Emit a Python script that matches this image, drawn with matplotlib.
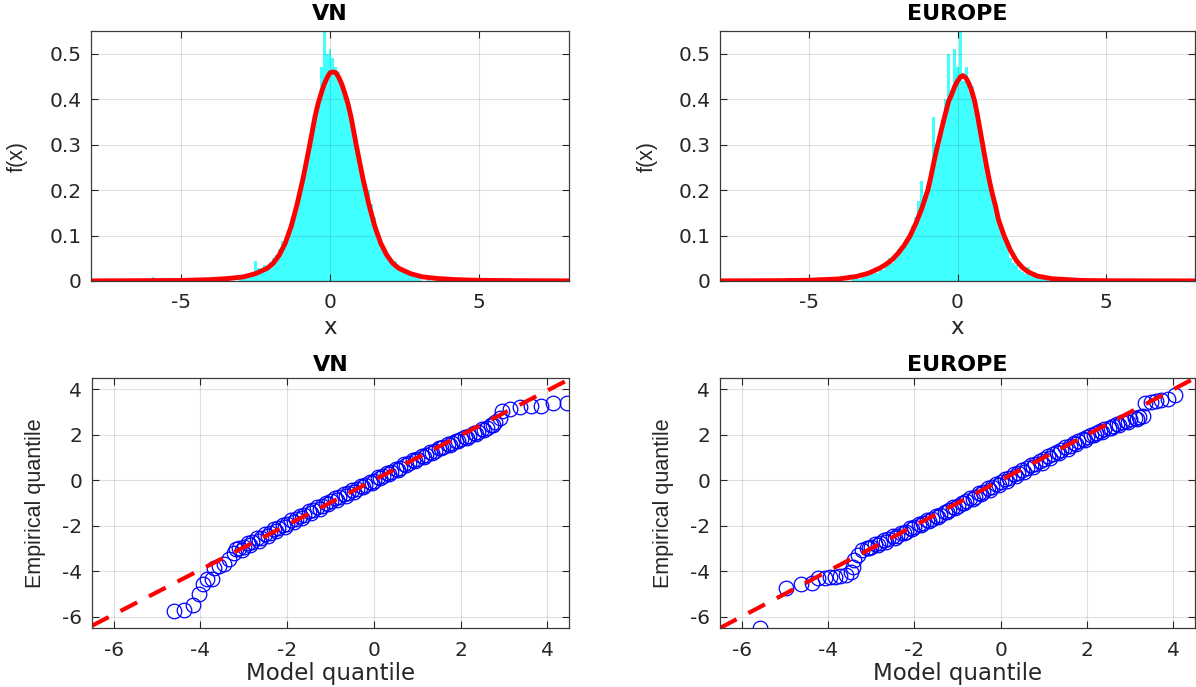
import numpy as np
import matplotlib
matplotlib.use('Agg')
import matplotlib.pyplot as plt

# ---- histogram + fitted density ----
vn_bin_x = np.round(np.arange(-3.0, 3.01, 0.1), 2)
vn_hist = [0.008, 0.012, 0.010, 0.015, 0.020, 0.045, 0.028, 0.022, 0.035, 0.030,
           0.042, 0.050, 0.058, 0.070, 0.088, 0.092, 0.110, 0.130, 0.150, 0.175,
           0.200, 0.230, 0.260, 0.290, 0.330, 0.370, 0.400, 0.470, 0.550, 0.500,
           0.510, 0.490, 0.470, 0.460, 0.440, 0.420, 0.390, 0.370, 0.340, 0.300,
           0.270, 0.240, 0.210, 0.200, 0.170, 0.140, 0.110, 0.090, 0.075, 0.060,
           0.050, 0.040, 0.045, 0.030, 0.028, 0.020, 0.018, 0.015, 0.012, 0.010,
           0.008]
vn_tail_x = [-5.9, -3.9, -3.4, 3.3, 3.6]
vn_tail_h = [0.008, 0.006, 0.008, 0.006, 0.004]

vn_pdf_x = [-8, -6, -5, -4, -3.4, -2.9, -2.5, -2.1, -1.9, -1.7, -1.5, -1.3, -1.1,
            -0.9, -0.7, -0.5, -0.4, -0.3, -0.2, -0.1, 0.0, 0.1, 0.2, 0.3, 0.4,
            0.5, 0.6, 0.7, 0.9, 1.1, 1.3, 1.5, 1.7, 1.9, 2.1, 2.3, 2.7, 3.1, 3.6,
            4.2, 5, 6, 8]
vn_pdf = [0.0003, 0.0008, 0.0012, 0.003, 0.0055, 0.009, 0.016, 0.028, 0.039,
          0.057, 0.083, 0.120, 0.169, 0.226, 0.292, 0.362, 0.390, 0.412, 0.432,
          0.447, 0.458, 0.460, 0.458, 0.447, 0.432, 0.412, 0.390, 0.362, 0.292,
          0.226, 0.169, 0.120, 0.083, 0.057, 0.039, 0.028, 0.016, 0.009, 0.0055,
          0.003, 0.0015, 0.0008, 0.0003]

eu_bin_x = np.round(np.arange(-3.5, 3.01, 0.1), 2)
eu_hist = [0.004, 0.006, 0.005, 0.008, 0.012, 0.010, 0.015, 0.020, 0.018, 0.030,
           0.025, 0.035, 0.050, 0.040, 0.055, 0.070, 0.068, 0.080, 0.090, 0.100,
           0.120, 0.140, 0.175, 0.220, 0.190, 0.200, 0.240, 0.360, 0.280, 0.300,
           0.330, 0.400, 0.500, 0.420, 0.510, 0.470, 0.550, 0.440, 0.470, 0.420,
           0.430, 0.380, 0.360, 0.300, 0.270, 0.240, 0.210, 0.180, 0.160, 0.120,
           0.100, 0.085, 0.075, 0.050, 0.040, 0.035, 0.025, 0.020, 0.015, 0.030,
           0.012, 0.020, 0.008, 0.005, 0.004, 0.003]
eu_tail_x = [-4.6, -4.3, -4.0, 3.3]
eu_tail_h = [0.005, 0.006, 0.003, 0.002]

eu_pdf_x = [-8, -6, -5, -4, -3.4, -3.0, -2.6, -2.4, -2.2, -2.0, -1.8, -1.6, -1.4,
            -1.2, -1.0, -0.9, -0.8, -0.7, -0.6, -0.5, -0.4, -0.3, -0.2, -0.1,
            0.0, 0.1, 0.18, 0.28, 0.38, 0.48, 0.58, 0.68, 0.78, 0.88, 0.98, 1.08,
            1.18, 1.28, 1.38, 1.48, 1.58, 1.78, 1.98, 2.18, 2.38, 2.68, 3.18,
            4.18, 5.2, 8]
eu_pdf = [0.0003, 0.0008, 0.0017, 0.0045, 0.010, 0.017, 0.029, 0.037, 0.047,
          0.061, 0.078, 0.099, 0.127, 0.160, 0.200, 0.228, 0.260, 0.290, 0.317,
          0.344, 0.370, 0.395, 0.410, 0.427, 0.440, 0.449, 0.452, 0.447, 0.435,
          0.418, 0.395, 0.362, 0.325, 0.288, 0.252, 0.219, 0.190, 0.165, 0.135,
          0.116, 0.098, 0.068, 0.045, 0.030, 0.020, 0.011, 0.005, 0.0012,
          0.0005, 0.0002]

# ---- QQ plots ----
vn_model = [-4.62, -4.37, -4.17, -4.04, -3.94, -3.85, -3.73, -3.69, -3.58, -3.46,
            -3.35, -3.23, -3.19,
            -3.1, -3.0, -2.9, -2.8, -2.7, -2.6, -2.5, -2.4, -2.3, -2.2, -2.1,
            -2.0, -1.9, -1.8, -1.7, -1.6, -1.5, -1.4, -1.3, -1.2, -1.1, -1.0,
            -0.9, -0.8, -0.7, -0.6, -0.5, -0.4, -0.3, -0.2, -0.1, 0.0, 0.1,
            0.2, 0.3, 0.4, 0.5, 0.6, 0.7, 0.8, 0.9, 1.0, 1.1, 1.2, 1.3, 1.4,
            1.5, 1.6, 1.7, 1.8, 1.9, 2.0, 2.1, 2.2, 2.3, 2.4, 2.5, 2.6, 2.7,
            2.8, 2.9,
            2.96, 3.15, 3.38, 3.62, 3.85, 4.12, 4.46]
vn_emp = [-5.75, -5.72, -5.50, -4.99, -4.58, -4.36, -4.33, -3.85, -3.77, -3.67,
          -3.48, -3.19, -3.04,
          -2.98, -2.92, -2.74, -2.70, -2.55, -2.52, -2.36, -2.33, -2.16, -2.12,
          -1.96, -1.92, -1.76, -1.72, -1.56, -1.52, -1.37, -1.32, -1.17, -1.12,
          -0.98, -0.93, -0.79, -0.74, -0.60, -0.55, -0.42, -0.37, -0.24, -0.19,
          -0.06, -0.01, 0.13, 0.17, 0.32, 0.36, 0.51, 0.55, 0.70, 0.74, 0.89,
          0.93, 1.07, 1.11, 1.25, 1.29, 1.42, 1.46, 1.58, 1.63, 1.74, 1.80,
          1.90, 1.96, 2.06, 2.13, 2.24, 2.31, 2.44, 2.55, 2.72,
          3.03, 3.13, 3.22, 3.25, 3.27, 3.39, 3.39]
# second row of the dense band (lower edge)
vn_model2 = [-3.05, -2.85, -2.65, -2.45, -2.25, -2.05, -1.85, -1.65, -1.45, -1.25,
             -1.05, -0.85, -0.65, -0.45, -0.25, -0.05, 0.15, 0.35, 0.55, 0.75,
             0.95, 1.15, 1.35, 1.55, 1.75, 1.95, 2.15, 2.35, 2.55, 2.75]
vn_emp2 = [-3.05, -2.85, -2.65, -2.45, -2.25, -2.05, -1.85, -1.65, -1.45, -1.25,
           -1.05, -0.88, -0.68, -0.50, -0.30, -0.10, 0.10, 0.28, 0.47, 0.66,
           0.85, 1.04, 1.22, 1.40, 1.56, 1.72, 1.88, 2.04, 2.22, 2.42]
vn_ref_x = [-6.5, 4.5]
vn_ref_y = [-6.4, 4.44]

eu_model = [-5.57, -4.98, -4.63, -4.37, -4.24, -4.08, -3.96, -3.84, -3.71, -3.59,
            -3.47, -3.43, -3.39, -3.31, -3.22,
            -3.1, -3.0, -2.9, -2.8, -2.7, -2.6, -2.5, -2.4, -2.3, -2.2, -2.1,
            -2.0, -1.9, -1.8, -1.7, -1.6, -1.5, -1.4, -1.3, -1.2, -1.1, -1.0,
            -0.9, -0.8, -0.7, -0.6, -0.5, -0.4, -0.3, -0.2, -0.1, 0.0, 0.1,
            0.2, 0.3, 0.4, 0.5, 0.6, 0.7, 0.8, 0.9, 1.0, 1.1, 1.2, 1.3, 1.4,
            1.5, 1.6, 1.7, 1.8, 1.9, 2.0, 2.1, 2.2, 2.3, 2.4, 2.5, 2.6, 2.7,
            2.8, 2.9, 3.0, 3.1, 3.2, 3.3,
            3.35, 3.47, 3.59, 3.71, 3.88, 4.04]
eu_emp = [-6.48, -4.75, -4.56, -4.53, -4.31, -4.28, -4.27, -4.24, -4.21, -4.17,
          -4.02, -3.80, -3.51, -3.29, -3.07,
          -2.96, -2.93, -2.80, -2.76, -2.64, -2.60, -2.47, -2.43, -2.30, -2.26,
          -2.12, -2.06, -1.94, -1.88, -1.76, -1.70, -1.57, -1.51, -1.38, -1.32,
          -1.18, -1.12, -0.98, -0.92, -0.78, -0.72, -0.57, -0.51, -0.36, -0.30,
          -0.15, -0.09, 0.06, 0.12, 0.26, 0.33, 0.46, 0.53, 0.66, 0.73, 0.86,
          0.94, 1.06, 1.14, 1.26, 1.34, 1.45, 1.53, 1.64, 1.72, 1.82, 1.91,
          2.00, 2.08, 2.16, 2.24, 2.31, 2.40, 2.46, 2.55, 2.60, 2.68, 2.72,
          2.78, 2.82,
          3.41, 3.46, 3.50, 3.53, 3.56, 3.75]
eu_model2 = [-3.05, -2.85, -2.65, -2.45, -2.25, -2.05, -1.85, -1.65, -1.45, -1.25,
             -1.05, -0.85, -0.65, -0.45, -0.25, -0.05, 0.15, 0.35, 0.55, 0.75,
             0.95, 1.15, 1.35, 1.55, 1.75, 1.95, 2.15, 2.35, 2.55, 2.75, 2.95,
             3.15]
eu_emp2 = [-3.00, -2.85, -2.70, -2.52, -2.34, -2.16, -1.97, -1.78, -1.60, -1.41,
           -1.22, -1.02, -0.82, -0.62, -0.42, -0.22, -0.02, 0.18, 0.38, 0.58,
           0.78, 0.98, 1.18, 1.38, 1.58, 1.78, 1.98, 2.14, 2.30, 2.44, 2.58,
           2.68]
eu_ref_x = [-6.5, 4.5]
eu_ref_y = [-6.5, 4.5]

plt.rcParams['font.family'] = 'DejaVu Sans'
plt.rcParams['axes.unicode_minus'] = False
W, H = 1196, 687
fig = plt.figure(figsize=(W / 100, H / 100), dpi=100)

def box(x0, y0, x1, y1):
    # pixel box -> figure fraction
    return [x0 / W, 1 - y1 / H, (x1 - x0) / W, (y1 - y0) / H]

def style(ax):
    ax.set_axisbelow('line')
    ax.grid(True, color='#000000', alpha=0.12, lw=0.8)
    ax.tick_params(direction='in', top=True, right=True, length=5, width=0.8,
                   colors='#262626', labelsize=14.5)
    ax.tick_params(axis='x', pad=9)
    ax.tick_params(axis='y', pad=7)
    for s in ax.spines.values():
        s.set_color('#3a3a3a')
        s.set_linewidth(0.9)

def hist_panel(ax, bx, bh, tx, th, px, py, title):
    ax.bar(bx, bh, width=0.1, color='#40ffff', linewidth=0)
    ax.bar(tx, th, width=0.1, color='#40ffff', linewidth=0)
    ax.plot(px, py, color='#ff0000', lw=3.5, solid_capstyle='round')
    ax.set_xlim(-8, 8)
    ax.set_ylim(0, 0.55)
    ax.set_xticks([-5, 0, 5])
    ax.set_yticks([0, 0.1, 0.2, 0.3, 0.4, 0.5])
    ax.set_yticklabels(['0', '0.1', '0.2', '0.3', '0.4', '0.5'])
    style(ax)
    ax.set_title(title, fontsize=16, fontweight='bold', pad=8)
    ax.set_xlabel('x', fontsize=16.5, color='#262626')
    ax.set_ylabel('f(x)', fontsize=15.5, color='#262626', family='Liberation Sans')
    ax.xaxis.set_label_coords(0.5, -0.14)
    ax.yaxis.set_label_coords(-0.132, 0.5)

def qq_panel(ax, mx, ey, mx2, ey2, rx, ry, title):
    ax.plot(mx, ey, 'o', mfc='none', mec='#0000ff', ms=10.5, mew=0.9)
    ax.plot(mx2, ey2, 'o', mfc='none', mec='#0000ff', ms=10.5, mew=0.9)
    ax.plot(rx, ry, color='#ff0000', lw=3.0, ls=(0, (4.5, 3.2)))
    ax.set_xlim(-6.5, 4.5)
    ax.set_ylim(-6.5, 4.5)
    ax.set_xticks([-6, -4, -2, 0, 2, 4])
    ax.set_yticks([-6, -4, -2, 0, 2, 4])
    style(ax)
    ax.set_title(title, fontsize=16, fontweight='bold', pad=5)
    ax.set_xlabel('Model quantile', fontsize=16.5, color='#262626')
    ax.set_ylabel('Empirical quantile', fontsize=15.5, color='#262626',
                  family='Liberation Sans')
    ax.xaxis.set_label_coords(0.5, -0.135)
    ax.yaxis.set_label_coords(-0.097, 0.5)

ax1 = fig.add_axes(box(91, 31, 569, 281))
hist_panel(ax1, vn_bin_x, vn_hist, vn_tail_x, vn_tail_h, vn_pdf_x, vn_pdf, 'VN')
ax2 = fig.add_axes(box(720, 31, 1195, 281))
hist_panel(ax2, eu_bin_x, eu_hist, eu_tail_x, eu_tail_h, eu_pdf_x, eu_pdf, 'EUROPE')
ax3 = fig.add_axes(box(92, 378, 569, 628))
qq_panel(ax3, vn_model, vn_emp, vn_model2, vn_emp2, vn_ref_x, vn_ref_y, 'VN')
ax4 = fig.add_axes(box(720, 378, 1195, 628))
qq_panel(ax4, eu_model, eu_emp, eu_model2, eu_emp2, eu_ref_x, eu_ref_y, 'EUROPE')

fig.savefig('out.png', dpi=100)
